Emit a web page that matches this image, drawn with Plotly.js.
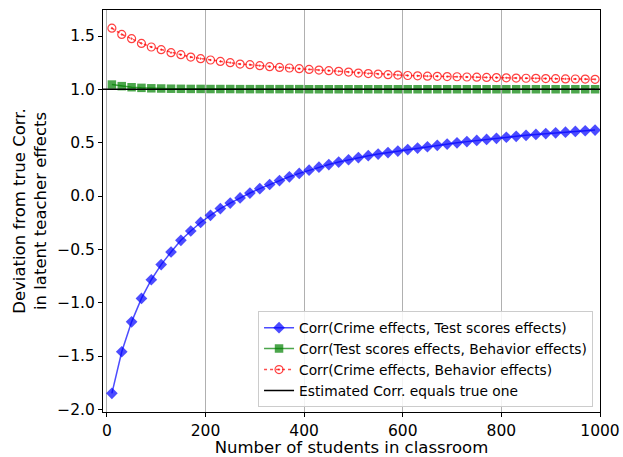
<!DOCTYPE html>
<html>
<head>
<meta charset="utf-8">
<script src="https://cdn.plot.ly/plotly-3.0.1.min.js"></script>
<style>html,body{margin:0;padding:0;background:#fff;}#chart{width:623px;height:457px;}</style>
</head>
<body>
<div id="chart"></div>
<script>
const students = [10,30,50,70,90,110,130,150,170,190,210,230,250,270,290,310,330,350,370,390,
  410,430,450,470,490,510,530,550,570,590,610,630,650,670,690,710,730,750,770,790,
  810,830,850,870,890,910,930,950,970,990];

const crimeTest = [-1.85,-1.46,-1.18,-0.96,-0.785,-0.643,-0.525,-0.415,-0.328,-0.248,
  -0.181,-0.118,-0.066,-0.018,0.028,0.069,0.108,0.145,0.18,0.212,
  0.242,0.27,0.295,0.318,0.34,0.36,0.378,0.393,0.407,0.421,
  0.435,0.449,0.462,0.475,0.487,0.499,0.51,0.521,0.531,0.541,
  0.551,0.56,0.569,0.577,0.585,0.592,0.599,0.606,0.612,0.618];

const testBehavior = [1.045,1.03,1.02,1.014,1.01,1.008,1.006,1.005,1.004,1.004,
  1.003,1.003,1.003,1.002,1.002,1.002,1.002,1.002,1.002,1.002,
  1.001,1.001,1.001,1.001,1.001,1.001,1.001,1.001,1.001,1.001,
  1.001,1.001,1.001,1.001,1.001,1.001,1.001,1.001,1.001,1.001,
  1.001,1.001,1.001,1.001,1.001,1.001,1.001,1.001,1.001,1.001];

const crimeBehavior = [1.574,1.515,1.475,1.431,1.397,1.372,1.344,1.325,1.303,1.288,
  1.275,1.262,1.25,1.237,1.231,1.222,1.213,1.206,1.2,1.194,
  1.187,1.181,1.175,1.169,1.162,1.153,1.148,1.143,1.138,1.134,
  1.13,1.127,1.124,1.122,1.12,1.118,1.116,1.114,1.112,1.11,
  1.108,1.106,1.104,1.103,1.101,1.1,1.098,1.097,1.096,1.094];

const trueLevel = 1.0;
const xRange = [-8, 1000];
const yRange = [-2.025, 1.744];
const xTicks = [0, 200, 400, 600, 800, 1000];

const seriesNames = [
  'Corr(Crime effects, Test scores effects)',
  'Corr(Test scores effects, Behavior effects)',
  'Corr(Crime effects, Behavior effects)',
  'Estimated Corr. equals true one'
];

const traces = [
  {x: students, y: crimeTest, name: seriesNames[0], type: 'scatter', mode: 'lines+markers',
   line: {color: 'rgba(0,0,255,0.7)', width: 1.5},
   marker: {symbol: 'diamond', size: 9, color: 'rgba(0,0,255,0.7)', line: {width: 0}}},
  {x: students, y: testBehavior, name: seriesNames[1], type: 'scatter', mode: 'lines+markers',
   line: {color: 'rgba(0,128,0,0.7)', width: 1.5},
   marker: {symbol: 'square', size: 8.5, color: 'rgba(0,128,0,0.7)', line: {width: 0}}},
  {x: students, y: crimeBehavior, name: seriesNames[2], type: 'scatter', mode: 'lines+markers',
   line: {color: 'rgba(255,0,0,0.7)', width: 1.5, dash: 'dot'},
   marker: {symbol: 'circle-open-dot', size: 8, color: 'rgba(255,0,0,0.75)', line: {width: 1.2, color: 'rgba(255,0,0,0.75)'}}},
  {x: xRange, y: [trueLevel, trueLevel], name: seriesNames[3], type: 'scatter', mode: 'lines',
   line: {color: '#000000', width: 1.5}}
];

const fam = 'DejaVu Sans, sans-serif';
const tickFont = {family: fam, size: 15.5, color: '#000'};
const titleFont = {family: fam, size: 16.5, color: '#000'};

const layout = {
  width: 623, height: 457,
  margin: {l: 103, r: 23, t: 10, b: 45},
  paper_bgcolor: '#fff', plot_bgcolor: '#fff',
  font: tickFont,
  showlegend: true,
  legend: {
    x: 0.986, y: 0.012, xanchor: 'right', yanchor: 'bottom',
    bgcolor: 'rgba(255,255,255,0.85)', bordercolor: '#cccccc', borderwidth: 1,
    font: {family: fam, size: 13.8, color: '#000'},
    traceorder: 'normal'
  },
  xaxis: {
    range: xRange, tickvals: xTicks, ticktext: xTicks.map(String), tickfont: tickFont,
    showgrid: true, gridcolor: '#b0b0b0', gridwidth: 1,
    zeroline: false, showline: true, linecolor: '#000', linewidth: 1, mirror: true,
    ticks: 'outside', ticklen: 4, tickcolor: '#000',
    title: {text: 'Number of students in classroom', font: titleFont, standoff: 4}
  },
  yaxis: {
    range: yRange, dtick: 0.5, tick0: 0, tickformat: '.1f', tickfont: tickFont,
    showgrid: false, zeroline: false, showline: true, linecolor: '#000', linewidth: 1, mirror: true,
    ticks: 'outside', ticklen: 4, tickcolor: '#000',
    title: {text: 'Deviation from true Corr.<br>in latent teacher effects', font: titleFont, standoff: 6}
  }
};

Plotly.newPlot('chart', traces, layout, {displayModeBar: false, staticPlot: true});
</script>
</body>
</html>
